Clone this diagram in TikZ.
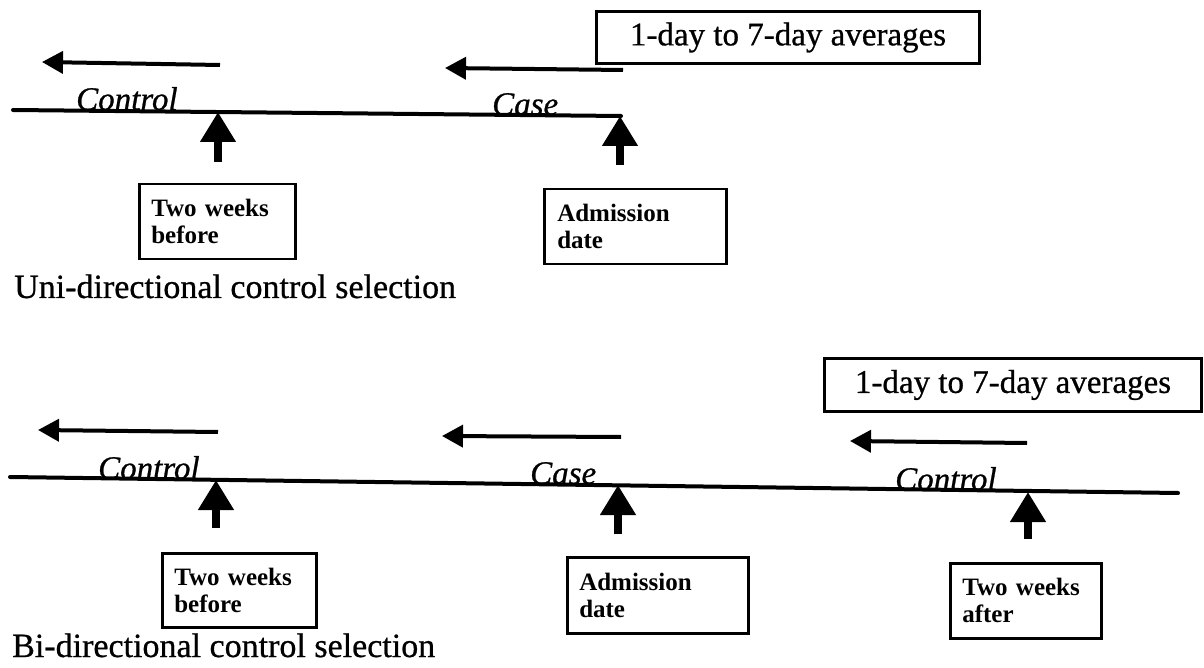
\documentclass[tikz,border=0pt]{standalone}
\usepackage{fontspec}
\setmainfont{Liberation Serif}
\newfontfamily\heavyserif[FakeBold=0.7]{Liberation Serif}
\usetikzlibrary{arrows.meta}
\begin{document}
\begin{tikzpicture}[x=1pt,y=-1pt,
  timeline/.style={line width=4pt,line cap=round},
  leftarrow/.style={line width=4pt,-{Triangle[length=21pt,width=22pt]}},
  uparrow/.style={line width=7.5pt,-{Triangle[length=30pt,width=34pt]}},
  avgbox/.style={draw,line width=3pt,inner sep=0pt,anchor=north west,font=\fontsize{33}{38}\heavyserif},
  datebox/.style={draw,line width=2.5pt,inner xsep=12pt,inner ysep=0pt,align=left,anchor=north west,font=\fontsize{25}{27}\selectfont\bfseries},
  lbl/.style={anchor=base west,inner sep=0pt,font=\fontsize{33}{38}\heavyserif\itshape},
  caption/.style={anchor=base west,inner sep=0pt,font=\fontsize{34}{38}\heavyserif}]
\useasboundingbox (0,0) rectangle (1204,668);

% ---------- Uni-directional ----------
\node[avgbox,minimum width=383pt,minimum height=52pt] (avg1) at (595,10) {1-day to 7-day averages};

\coordinate (a1s) at (220,65); \coordinate (a1e) at (42,62);
\coordinate (a2s) at (623,70); \coordinate (a2e) at (445,68);
\draw[leftarrow] (a1s) -- (a1e);
\draw[leftarrow] (a2s) -- (a2e);

\coordinate (t1s) at (13,110); \coordinate (t1e) at (621,116);
\draw[timeline] (t1s) -- (t1e);

\node[lbl] (ctl1) at (76,110) {Control};
\node[lbl] (case1) at (492,115) {Case};

\coordinate (u1b) at (218,162); \coordinate (u1t) at (218,112);
\coordinate (u2b) at (620,165); \coordinate (u2t) at (620,116);
\draw[uparrow] (u1b) -- (u1t);
\draw[uparrow] (u2b) -- (u2t);

\node[datebox,minimum width=156pt,minimum height=75pt,text width=132pt] (tw1) at (138,183) {Two weeks\\before};
\node[datebox,minimum width=182pt,minimum height=75pt,text width=156pt] (ad1) at (543,188) {Admission\\date};

\node[caption] (cap1) at (14,298) {Uni-directional control selection};

% ---------- Bi-directional ----------
\node[avgbox,minimum width=377pt,minimum height=53pt] (avg2) at (823,357) {1-day to 7-day averages};

\coordinate (b1s) at (218,432); \coordinate (b1e) at (38,430);
\coordinate (b2s) at (621,437); \coordinate (b2e) at (442,436);
\coordinate (b3s) at (1027,443); \coordinate (b3e) at (850,441);
\draw[leftarrow] (b1s) -- (b1e);
\draw[leftarrow] (b2s) -- (b2e);
\draw[leftarrow] (b3s) -- (b3e);

\coordinate (t2s) at (10,477); \coordinate (t2e) at (1178,493);
\draw[timeline] (t2s) -- (t2e);

\node[lbl] (ctl2) at (98,479) {Control};
\node[lbl] (case2) at (530,484) {Case};
\node[lbl] (ctl3) at (895,490) {Control};

\coordinate (u3b) at (216,528); \coordinate (u3t) at (216,480);
\coordinate (u4b) at (618,534); \coordinate (u4t) at (618,485);
\coordinate (u5b) at (1028,539); \coordinate (u5t) at (1028,492);
\draw[uparrow] (u3b) -- (u3t);
\draw[uparrow] (u4b) -- (u4t);
\draw[uparrow] (u5b) -- (u5t);

\node[datebox,minimum width=154pt,minimum height=74pt,text width=130pt] (tw2) at (161,552) {Two weeks\\before};
\node[datebox,minimum width=181pt,minimum height=76pt,text width=157pt] (ad2) at (566,556) {Admission\\date};
\node[datebox,minimum width=151pt,minimum height=75pt,text width=127pt] (tw3) at (949,562) {Two weeks\\after};

\node[caption] (cap2) at (12,657) {Bi-directional control selection};
\end{tikzpicture}
\end{document}
